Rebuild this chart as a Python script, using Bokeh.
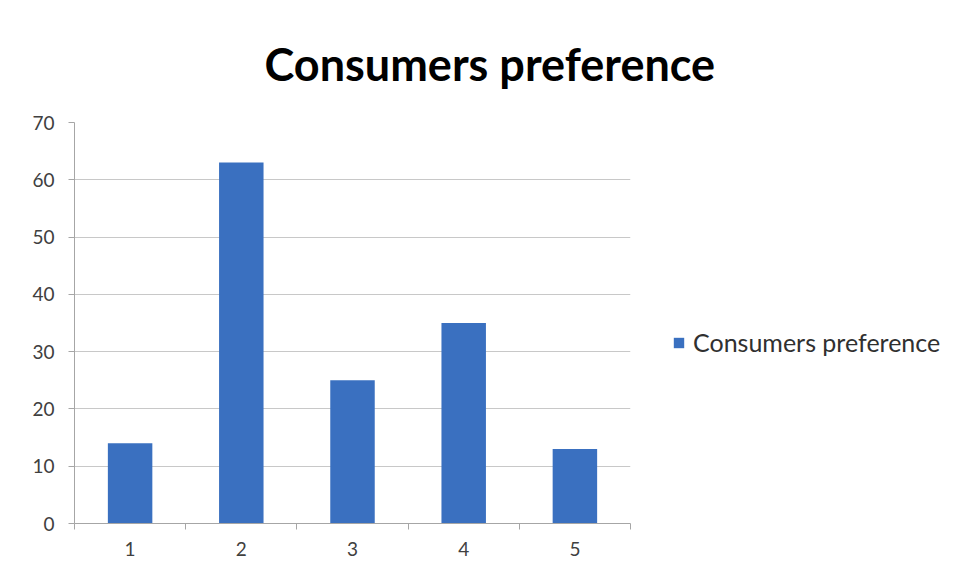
from bokeh.plotting import figure
from bokeh.models import FixedTicker, Legend, LegendItem, Range1d, Title
from bokeh.embed import file_html
from bokeh.resources import INLINE

categories = ["1", "2", "3", "4", "5"]
values = [14, 63, 25, 35, 13]
series_name = "Consumers preference"
title_text = "Consumers preference"
y_ticks = [0, 10, 20, 30, 40, 50, 60, 70]

xs = [float(c) for c in categories]

p = figure(frame_width=556, frame_height=401, output_backend="svg", toolbar_location=None,
           x_range=Range1d(0.5, 5.5), y_range=Range1d(0, 70),
           min_border_left=74, min_border_top=122, min_border_bottom=65,
           title=None)
p.outline_line_color = None
p.background_fill_color = "white"

bars = p.vbar(x=xs, top=values, width=0.4, fill_color="#3a70c0", line_color=None)

font = "Lato"
# y axis
p.yaxis.ticker = FixedTicker(ticks=y_ticks)
p.yaxis.axis_line_color = "#a6a6a6"
p.yaxis.major_tick_line_color = "#a6a6a6"
p.yaxis.major_tick_out = 6
p.yaxis.major_tick_in = 0
p.yaxis.minor_tick_line_color = None
p.yaxis.major_label_text_font = font
p.yaxis.major_label_text_font_size = "19px"
p.yaxis.major_label_text_color = "#404040"
p.yaxis.major_label_standoff = 14

# x axis
p.xaxis.ticker = FixedTicker(ticks=xs, minor_ticks=[0.5, 1.5, 2.5, 3.5, 4.5, 5.5])
p.xaxis.axis_line_color = "#a6a6a6"
p.xaxis.major_tick_line_color = None
p.xaxis.minor_tick_line_color = "#a6a6a6"
p.xaxis.minor_tick_out = 6
p.xaxis.minor_tick_in = 0
p.xaxis.major_label_text_font = font
p.xaxis.major_label_text_font_size = "19px"
p.xaxis.major_label_text_color = "#404040"
p.xaxis.major_label_standoff = 12

p.xgrid.grid_line_color = None
p.ygrid.ticker = FixedTicker(ticks=y_ticks)
p.ygrid.grid_line_color = "#c8c8c8"
p.ygrid.grid_line_width = 1

legend = Legend(items=[LegendItem(label=series_name, renderers=[bars])],
                location=(42, 166), label_text_font=font,
                label_text_font_size="25px", label_text_color="#303030",
                glyph_width=13, glyph_height=13, padding=4, spacing=0, margin=0,
                label_standoff=8,
                border_line_color=None, background_fill_alpha=0)
p.add_layout(legend, "right")

title = Title(text=title_text, align="left", offset=190, standoff=64,
              text_font=font, text_font_style="bold", text_font_size="45px",
              text_color="black")
p.add_layout(title, "above")

open("out.html", "w").write(file_html(p, INLINE))
